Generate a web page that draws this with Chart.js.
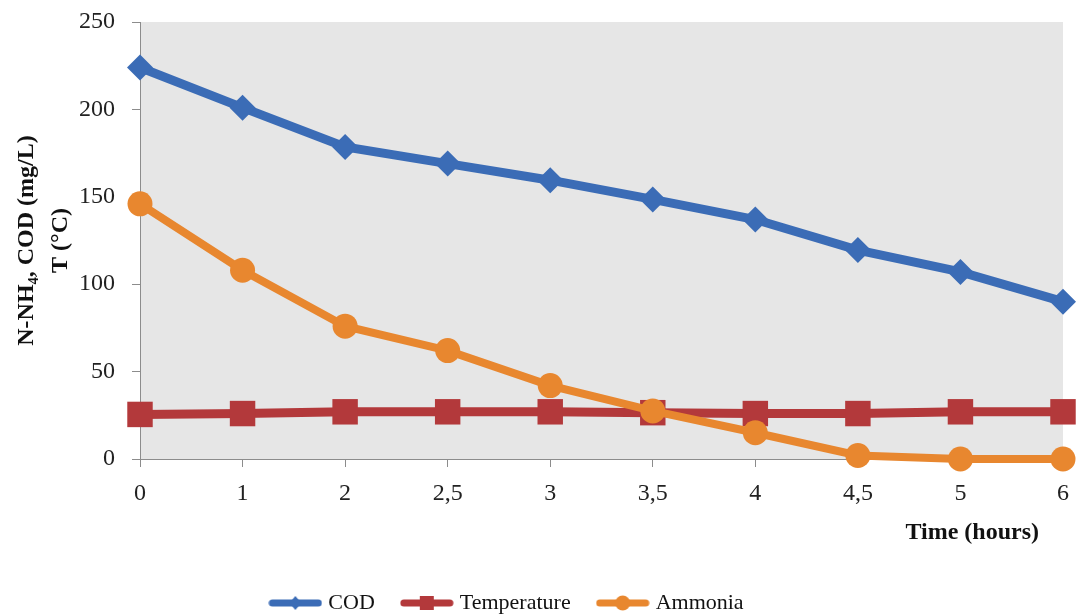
<!DOCTYPE html>
<html>
<head>
<meta charset="utf-8">
<script src="https://cdn.jsdelivr.net/npm/chart.js@4.4.1/dist/chart.umd.min.js"></script>
<style>
  html, body { margin: 0; padding: 0; background: #ffffff; }
  #wrap { width: 1077px; height: 615px; }
</style>
</head>
<body>
<div id="wrap"><canvas id="chart" width="1077" height="615"></canvas></div>
<script>
// Sampling times (hours) shown as evenly spaced categories
const timeLabels = ['0', '1', '2', '2,5', '3', '3,5', '4', '4,5', '5', '6'];

// Measured series
const codValues = [224, 201, 178.5, 169, 159.5, 148.5, 137, 119.5, 107, 90];
const temperatureValues = [25.5, 26, 27, 27, 27, 26.5, 26, 26, 27, 27];
const ammoniaValues = [146, 108, 76, 62, 42, 27.5, 15, 2, 0, 0];

// Value axis
const yMin = 0;
const yMax = 250;
const yStep = 50;

const seriesNames = ['COD', 'Temperature', 'Ammonia'];
const seriesColors = ['#3b6cb6', '#b3393b', '#e8872f'];

const FONT = "'Liberation Serif', 'Times New Roman', serif";
const AXIS_COLOR = '#8c8c8c';

// Legend key: a short thick line with the series marker in the middle
function legendKey(color, style) {
  const c = document.createElement('canvas');
  c.width = 54; c.height = 24;
  const g = c.getContext('2d');
  g.strokeStyle = color;
  g.fillStyle = color;
  g.lineWidth = 7;
  g.lineCap = 'round';
  g.beginPath();
  g.moveTo(4, 12); g.lineTo(50, 12);
  g.stroke();
  g.beginPath();
  if (style === 'rectRot') {
    g.moveTo(27, 5); g.lineTo(33, 12); g.lineTo(27, 19); g.lineTo(21, 12); g.closePath();
  } else if (style === 'rect') {
    g.rect(20, 5, 14, 14);
  } else {
    g.arc(27, 12, 7.5, 0, Math.PI * 2);
  }
  g.fill();
  return c;
}

const plotBackground = {
  id: 'plotBackground',
  beforeDraw(chart) {
    const { ctx, chartArea: a } = chart;
    ctx.save();
    ctx.fillStyle = '#e6e6e6';
    ctx.fillRect(a.left, a.top, a.right - a.left, a.bottom - a.top);
    ctx.restore();
  }
};

// Nudge the legend row slightly left and down
const legendShift = {
  id: 'legendShift',
  afterLayout(chart) {
    const lg = chart.legend;
    if (lg) {
      lg.left -= 23; lg.right -= 23;
      lg.top += 9; lg.bottom += 9;
    }
  }
};

const data = {
  labels: timeLabels,
  datasets: [
    {
      label: seriesNames[0],
      data: codValues,
      borderColor: seriesColors[0],
      backgroundColor: seriesColors[0],
      borderWidth: 9,
      pointStyle: 'rectRot',
      pointRadius: 13,
      pointBorderWidth: 0,
      pointBackgroundColor: seriesColors[0],
      order: 2,
      clip: false
    },
    {
      label: seriesNames[1],
      data: temperatureValues,
      borderColor: seriesColors[1],
      backgroundColor: seriesColors[1],
      borderWidth: 9,
      pointStyle: 'rect',
      pointRadius: 18,
      pointBorderWidth: 0,
      pointBackgroundColor: seriesColors[1],
      order: 1,
      clip: false
    },
    {
      label: seriesNames[2],
      data: ammoniaValues,
      borderColor: seriesColors[2],
      backgroundColor: seriesColors[2],
      borderWidth: 8,
      pointStyle: 'circle',
      pointRadius: 12.5,
      pointBorderWidth: 0,
      pointBackgroundColor: seriesColors[2],
      order: 0,
      clip: false
    }
  ]
};

const keyStyles = ['rectRot', 'rect', 'circle'];

new Chart(document.getElementById('chart'), {
  type: 'line',
  data,
  plugins: [plotBackground, legendShift],
  options: {
    responsive: false,
    animation: false,
    devicePixelRatio: 1,
    layout: { autoPadding: false, padding: { left: 0, right: 14, top: 22, bottom: 0 } },
    elements: { line: { tension: 0 } },
    plugins: {
      tooltip: { enabled: false },
      legend: {
        position: 'bottom',
        labels: {
          usePointStyle: true,
          pointStyleWidth: 44,
          padding: 30,
          color: '#111',
          font: { family: FONT, size: 22 },
          generateLabels(chart) {
            return chart.data.datasets.map((ds, i) => ({
              text: ds.label,
              pointStyle: legendKey(seriesColors[i], keyStyles[i]),
              fillStyle: seriesColors[i],
              strokeStyle: seriesColors[i],
              lineWidth: 0,
              hidden: false,
              datasetIndex: i,
              fontColor: '#111'
            }));
          }
        }
      }
    },
    scales: {
      x: {
        type: 'category',
        offset: false,
        grid: { display: true, drawOnChartArea: false, drawTicks: true, tickLength: 8, color: AXIS_COLOR },
        border: { display: true, color: AXIS_COLOR, width: 1 },
        ticks: { color: '#222', font: { family: FONT, size: 24 }, padding: 12, maxRotation: 0, autoSkip: false },
        title: {
          display: true,
          text: 'Time (hours)\u2002\u2002',
          align: 'end',
          color: '#111',
          font: { family: FONT, size: 24, weight: 'bold' },
          padding: { top: 0, bottom: 6 }
        },
        afterFit(scale) {
          scale.height = 94;
          scale.paddingLeft = 0;
          scale.paddingRight = 0;
        }
      },
      y: {
        min: yMin,
        max: yMax,
        grid: { display: true, drawOnChartArea: false, drawTicks: true, tickLength: 8, color: AXIS_COLOR },
        border: { display: true, color: AXIS_COLOR, width: 1 },
        ticks: { stepSize: yStep, color: '#222', font: { family: FONT, size: 24 }, padding: 17 },
        title: {
          display: true,
          text: ['N-NH\u2084, COD (mg/L)', 'T (\u00B0C)'],
          color: '#111',
          font: { family: FONT, size: 24, weight: 'bold', lineHeight: 1.4 },
          padding: { top: 10, bottom: 0 }
        },
        afterFit(scale) {
          scale.width = 140;
          scale.paddingTop = 0;
          scale.paddingBottom = 0;
        }
      }
    }
  }
});
</script>
</body>
</html>
